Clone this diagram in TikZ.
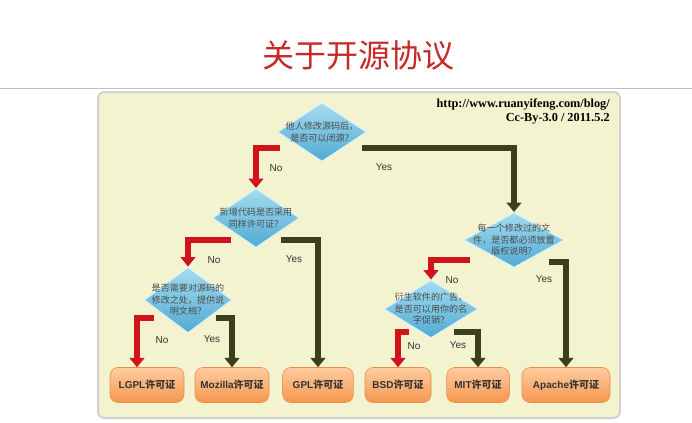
\documentclass[tikz,border=0pt]{standalone}
\usepackage{fontspec}
\setmainfont{Liberation Sans}
\newfontfamily\cjk{Noto Sans CJK SC}
\newfontfamily\urlf{Liberation Serif}
\usetikzlibrary{shapes.geometric,arrows.meta}
\definecolor{panel}{HTML}{F4F3D0}
\definecolor{redar}{HTML}{D0141C}
\definecolor{darkar}{HTML}{3A3F20}
\definecolor{titler}{HTML}{C42A28}
\tikzset{
 dshape/.style={diamond,draw=white!85!cyan,line width=0.8pt,top color={rgb,255:red,165;green,220;blue,240},bottom color={rgb,255:red,80;green,170;blue,210},inner sep=0pt},
 dtext/.style={font=\cjk\fontsize{6.8}{8.6}\selectfont,text=black!70,align=center,inner sep=0pt},
 lic/.style={rounded corners=6pt,draw={rgb,255:red,232;green,140;blue,70},top color={rgb,255:red,255;green,205;blue,160},bottom color={rgb,255:red,245;green,150;blue,80},minimum height=26.25pt,font=\bfseries\fontsize{7.5}{8}\selectfont,text=black!80,inner sep=1pt},
 noar/.style={draw=redar,line width=5.2pt,-{Triangle[width=11pt,length=7pt]}},
 yesar/.style={draw=darkar,line width=5.2pt,-{Triangle[width=11pt,length=7pt]}},
 lab/.style={font=\fontsize{7.5}{8}\selectfont,text=black!80,inner sep=0pt}
}
\begin{document}
\begin{tikzpicture}[x=0.75pt,y=-0.75pt]
\useasboundingbox[fill=white] (0,0) rectangle (692,422);
\node[text=titler,font=\cjk\fontsize{24}{26}\selectfont] (title) at (358,55) {关于开源协议};
\draw[black!25,line width=0.6pt] (0,88) -- (692,88);
\draw[fill=panel,draw=black!18,line width=1.5pt,rounded corners=5pt] (98,92) rectangle (620,418);
\node[anchor=north east,font=\urlf\bfseries\fontsize{9.2}{10.5}\selectfont,align=right,inner sep=0pt] (url) at (610,99) {http://www.ruanyifeng.com/blog/\\Cc-By-3.0 / 2011.5.2};
% diamonds
\node[dshape,minimum width=66.75pt,minimum height=44.25pt] (d1) at (322,132) {};
\node[dtext] (d1t) at (d1) {他人修改源码后，\\是否可以闭源？};
\node[dshape,minimum width=65.25pt,minimum height=44.25pt] (d2) at (256,218) {};
\node[dtext] (d2t) at (d2) {新增代码是否采用\\同样许可证？};
\node[dshape,minimum width=75pt,minimum height=41.25pt] (d3) at (514,240) {};
\node[dtext] (d3t) at (d3) {每一个修改过的文\\件，是否都必须放置\\版权说明？};
\node[dshape,minimum width=66pt,minimum height=49.5pt] (d4) at (188,300) {};
\node[dtext] (d4t) at (d4) {是否需要对源码的\\修改之处，提供说\\明文档？};
\node[dshape,minimum width=70.5pt,minimum height=43.5pt] (d5) at (431,309) {};
\node[dtext] (d5t) at (d5) {衍生软件的广告，\\是否可以用你的名\\字促销？};
% licenses
\node[lic,minimum width=55.5pt] (lgpl) at (147,385) {LGPL{\cjk 许可证}};
\node[lic,minimum width=55.5pt] (moz) at (232,385) {Mozilla{\cjk 许可证}};
\node[lic,minimum width=53pt] (gpl) at (318,385) {GPL{\cjk 许可证}};
\node[lic,minimum width=49.5pt] (bsd) at (398,385) {BSD{\cjk 许可证}};
\node[lic,minimum width=47pt] (mit) at (478,385) {MIT{\cjk 许可证}};
\node[lic,minimum width=66pt] (apache) at (566,385) {Apache{\cjk 许可证}};
% arrow start points
\coordinate (s1n) at (280,148);
\coordinate (s1y) at (362,148);
\coordinate (s2n) at (231,240);
\coordinate (s2y) at (281,240);
\coordinate (s3n) at (470,260);
\coordinate (s3y) at (549,262);
\coordinate (s4n) at (154,318);
\coordinate (s4y) at (216,318);
\coordinate (s5n) at (409,332);
\coordinate (s5y) at (454,332);
\draw[noar] (s1n) -| (d2.north);
\draw[yesar] (s1y) -| (d3.north);
\draw[noar] (s2n) -| (d4.north);
\draw[yesar] (s2y) -| (gpl.north);
\draw[noar] (s3n) -| (d5.north);
\draw[yesar] (s3y) -| (apache.north);
\draw[noar] (s4n) -| ([xshift=-7.5pt]lgpl.north);
\draw[yesar] (s4y) -| (moz.north);
\draw[noar] (s5n) -| (bsd.north);
\draw[yesar] (s5y) -| (mit.north);
% labels
\node[lab] (l1n) at (276,168) {No};
\node[lab] (l1y) at (384,167) {Yes};
\node[lab] (l2n) at (214,260) {No};
\node[lab] (l2y) at (294,259) {Yes};
\node[lab] (l3n) at (452,280) {No};
\node[lab] (l3y) at (544,279) {Yes};
\node[lab] (l4n) at (162,340) {No};
\node[lab] (l4y) at (212,339) {Yes};
\node[lab] (l5n) at (414,346) {No};
\node[lab] (l5y) at (458,345) {Yes};
\end{tikzpicture}
\end{document}
